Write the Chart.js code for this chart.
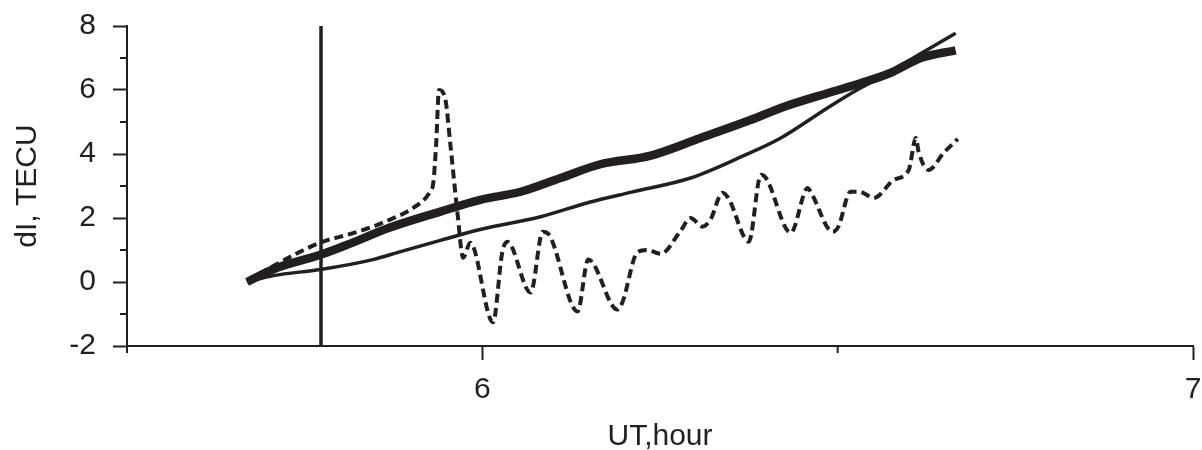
<!DOCTYPE html>
<html>
<head>
<meta charset="utf-8">
<script src="https://cdn.jsdelivr.net/npm/chart.js@4.4.1/dist/chart.umd.min.js"></script>
<style>
  html, body { margin: 0; padding: 0; background: #fff; }
  #wrap { width: 1202px; height: 450px; }
</style>
</head>
<body>
<div id="wrap"><canvas id="myChart"></canvas></div>
<script>
// datos (UT en horas, dI en TECU)
const thickX = [5.669, 5.706, 5.772, 5.814, 5.870, 5.941, 5.997, 6.054, 6.110, 6.166, 6.237, 6.307, 6.377, 6.420, 6.490, 6.532, 6.574, 6.617, 6.666];
const thickY = [0, 0.4, 0.85, 1.2, 1.7, 2.2, 2.57, 2.82, 3.25, 3.68, 3.95, 4.5, 5.06, 5.44, 5.93, 6.21, 6.53, 7.0, 7.24];

const thinX = [5.669, 5.706, 5.772, 5.846, 5.885, 5.941, 5.997, 6.082, 6.152, 6.210, 6.293, 6.363, 6.420, 6.490, 6.532, 6.561, 6.608, 6.666];
const thinY = [0, 0.2, 0.39, 0.7, 0.95, 1.3, 1.64, 2.04, 2.5, 2.81, 3.25, 3.9, 4.5, 5.5, 6.06, 6.4, 7.02, 7.77];

const dashX = [5.669, 5.706, 5.772, 5.814, 5.846, 5.870, 5.903, 5.927, 5.931, 5.935, 5.939, 5.948, 5.955, 5.965, 5.973, 5.983, 6.015, 6.028, 6.035, 6.068, 6.085, 6.093, 6.134, 6.149, 6.190, 6.197, 6.218, 6.232, 6.251, 6.279, 6.293, 6.310, 6.321, 6.338, 6.346, 6.375, 6.392, 6.399, 6.434, 6.458, 6.462, 6.493, 6.501, 6.518, 6.530, 6.551, 6.579, 6.600, 6.610, 6.614, 6.628, 6.649, 6.669];
const dashY = [0, 0.5, 1.23, 1.5, 1.73, 1.95, 2.32, 2.85, 3.1, 4.3, 6.0, 5.7, 4.3, 2.16, 0.76, 1.23, -1.26, 0.92, 1.26, -0.33, 1.57, 1.5, -0.92, 0.7, -0.86, -0.64, 0.92, 1.0, 0.88, 1.6, 2.0, 1.73, 1.95, 2.79, 2.63, 1.26, 3.35, 3.25, 1.54, 2.94, 2.82, 1.57, 1.73, 2.82, 2.82, 2.63, 3.19, 3.5, 4.5, 4.06, 3.5, 4.03, 4.47];

// linea vertical
const markerX = [5.773, 5.773];
const markerY = [-2, 8];

// ejes
const xMajorTicks = [6, 7];
const xMinorTicks = [5.5, 6.5];
const yMinorTicks = [-1, 1, 3, 5, 7];

const ink = "#231f20";
const fontFamily = "'Liberation Sans', Arial, Helvetica, sans-serif";

function pares(xs, ys) {
  return xs.map((x, i) => ({ x: x, y: ys[i] }));
}

// marcas menores de los ejes
const minorTicks = {
  id: "minorTicks",
  afterDraw(chart) {
    const { ctx, chartArea, scales } = chart;
    ctx.save();
    ctx.strokeStyle = ink;
    ctx.lineWidth = 2;
    yMinorTicks.forEach(v => {
      const py = scales.y.getPixelForValue(v);
      ctx.beginPath();
      ctx.moveTo(chartArea.left - 7, py);
      ctx.lineTo(chartArea.left, py);
      ctx.stroke();
    });
    xMinorTicks.forEach(v => {
      const px = scales.x.getPixelForValue(v);
      ctx.beginPath();
      ctx.moveTo(px, chartArea.bottom);
      ctx.lineTo(px, chartArea.bottom + 7);
      ctx.stroke();
    });
    ctx.restore();
  }
};

const ctx = document.getElementById("myChart").getContext("2d");

const chart = new Chart(ctx, {
  type: "line",
  data: {
    datasets: [
      {
        label: "vertical",
        data: pares(markerX, markerY),
        borderColor: ink,
        borderWidth: 3.5,
        pointRadius: 0,
        tension: 0,
      },
      {
        label: "dashed",
        data: pares(dashX, dashY),
        borderColor: ink,
        borderWidth: 4,
        borderDash: [9, 5],
        pointRadius: 0,
        cubicInterpolationMode: "monotone",
      },
      {
        label: "thin",
        data: pares(thinX, thinY),
        borderColor: ink,
        borderWidth: 3.5,
        pointRadius: 0,
        cubicInterpolationMode: "monotone",
      },
      {
        label: "thick",
        data: pares(thickX, thickY),
        borderColor: ink,
        borderWidth: 8.5,
        pointRadius: 0,
        cubicInterpolationMode: "monotone",
      },
    ],
  },
  options: {
    responsive: true,
    maintainAspectRatio: false,
    animation: false,
    layout: { padding: { top: 26, right: 9, left: 0, bottom: 0 } },
    plugins: {
      legend: { display: false },
      tooltip: { enabled: false },
    },
    scales: {
      x: {
        type: "linear",
        min: 5.5,
        max: 7,
        afterFit: scale => {
          scale.height = 104;
          scale.paddingLeft = 0;
          scale.paddingRight = 0;
        },
        afterBuildTicks: scale => { scale.ticks = xMajorTicks.map(v => ({ value: v })); },
        border: { display: true, color: ink, width: 2 },
        grid: { drawOnChartArea: false, drawTicks: true, tickLength: 14, tickColor: ink, tickWidth: 2 },
        ticks: {
          color: ink,
          padding: 12,
          maxRotation: 0,
          font: { family: fontFamily, size: 30 },
          callback: v => String(v),
        },
        title: {
          display: true,
          text: "UT,hour",
          color: ink,
          padding: { top: 0, bottom: 0 },
          font: { family: fontFamily, size: 30, lineHeight: 0.9 },
        },
      },
      y: {
        min: -2,
        max: 8,
        afterFit: scale => {
          scale.width = 127;
          scale.paddingTop = 0;
          scale.paddingBottom = 0;
        },
        border: { display: true, color: ink, width: 2 },
        grid: { drawOnChartArea: false, drawTicks: true, tickLength: 14, tickColor: ink, tickWidth: 2 },
        ticks: {
          stepSize: 2,
          color: ink,
          padding: 17,
          font: { family: fontFamily, size: 30 },
        },
        title: {
          display: true,
          text: "dI, TECU",
          color: ink,
          padding: { top: 10, bottom: 0 },
          font: { family: fontFamily, size: 30 },
        },
      },
    },
  },
  plugins: [minorTicks],
});
</script>
</body>
</html>
